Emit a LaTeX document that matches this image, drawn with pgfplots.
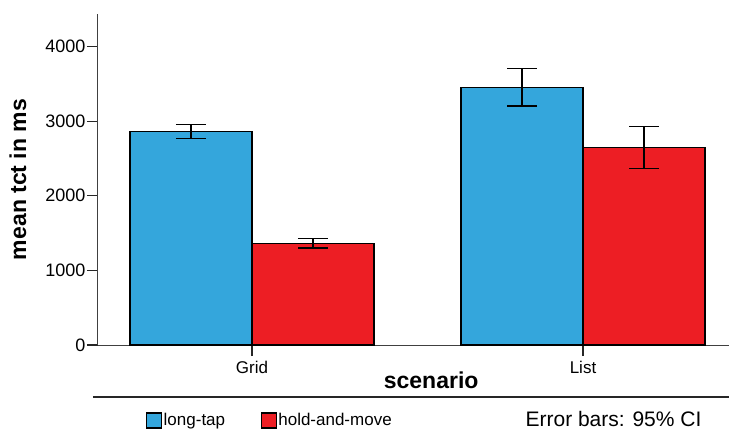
\documentclass[border=0pt]{standalone}
\usepackage{fontspec}
\setmainfont{Liberation Sans}
\usepackage{pgfplots}
\pgfplotsset{compat=1.18}
\definecolor{tapblue}{RGB}{52,166,220}
\definecolor{movered}{RGB}{237,30,36}
\begin{document}
\begin{tikzpicture}
\useasboundingbox (-98bp,-87bp) rectangle (631bp,345bp);
\begin{axis}[
  scale only axis, width=631bp, height=331bp,
  xmin=-0.465, xmax=1.441, ymin=0, ymax=4437,
  axis x line=bottom, axis y line=left,
  axis line style={-, line width=1bp, draw=black!75},
  ybar=0pt, bar width=122bp,
  xtick={0,1}, xticklabels={Grid,List},
  ytick={0,1000,2000,3000,4000},
  tick align=outside, major tick length=11bp,
  tick style={line width=1.2bp, black!85},
  /pgf/number format/assume math mode=true,
  /pgf/number format/1000 sep={},
  xticklabel style={font=\fontsize{17bp}{20bp}\selectfont, inner sep=2bp, yshift=-3bp},
  yticklabel style={font=\fontsize{18bp}{21bp}\selectfont, inner sep=1.5bp},
  xlabel={scenario}, ylabel={mean tct in ms},
  every axis x label/.style={at={(axis description cs:0.528,0)}, yshift=-35bp,
    anchor=center, font=\fontsize{23bp}{26bp}\selectfont\bfseries},
  every axis y label/.style={at={(axis description cs:0,0.5)}, xshift=-80bp,
    rotate=90, anchor=center, font=\fontsize{23bp}{26bp}\selectfont\bfseries},
  legend style={at={(axis description cs:0.0761,0)}, yshift=-75.5bp, anchor=west,
    draw=none, fill=none, inner sep=0pt, outer sep=0pt,
    font=\fontsize{17bp}{20bp}\selectfont,
    nodes={inner sep=1.5bp},
    /tikz/every even column/.append style={column sep=34bp}},
  legend columns=2, legend cell align=left,
]
\addplot[fill=tapblue, draw=black, line width=1.5bp,
  legend image code/.code={\draw[fill=tapblue, draw=black, line width=1.2bp] (0bp,-7.5bp) rectangle (15bp,7.5bp);},
  error bars/.cd, y dir=both, y explicit,
  error bar style={line width=1.5bp, black},
  error mark options={rotate=90, mark size=15bp, line width=1.5bp, black}]
  coordinates {(0,2860) += (0,93) -= (0,89) (1,3454) += (0,255) -= (0,250)};
\addlegendentry{long-tap}
\addplot[fill=movered, draw=black, line width=1.5bp,
  legend image code/.code={\draw[fill=movered, draw=black, line width=1.2bp] (0bp,-7.5bp) rectangle (15bp,7.5bp);},
  error bars/.cd, y dir=both, y explicit,
  error bar style={line width=1.5bp, black},
  error mark options={rotate=90, mark size=15bp, line width=1.5bp, black}]
  coordinates {(0,1363) += (0,62) -= (0,63) (1,2650) += (0,282) -= (0,287)};
\addlegendentry{hold-and-move}
\end{axis}
\draw[line width=2bp, black!85] (-5bp,-52.3bp) -- (631bp,-52.3bp);
\node[font=\fontsize{21bp}{24bp}\selectfont, anchor=center] at (515.5bp,-74bp) {Error bars: 95\% CI};
\end{tikzpicture}
\end{document}
